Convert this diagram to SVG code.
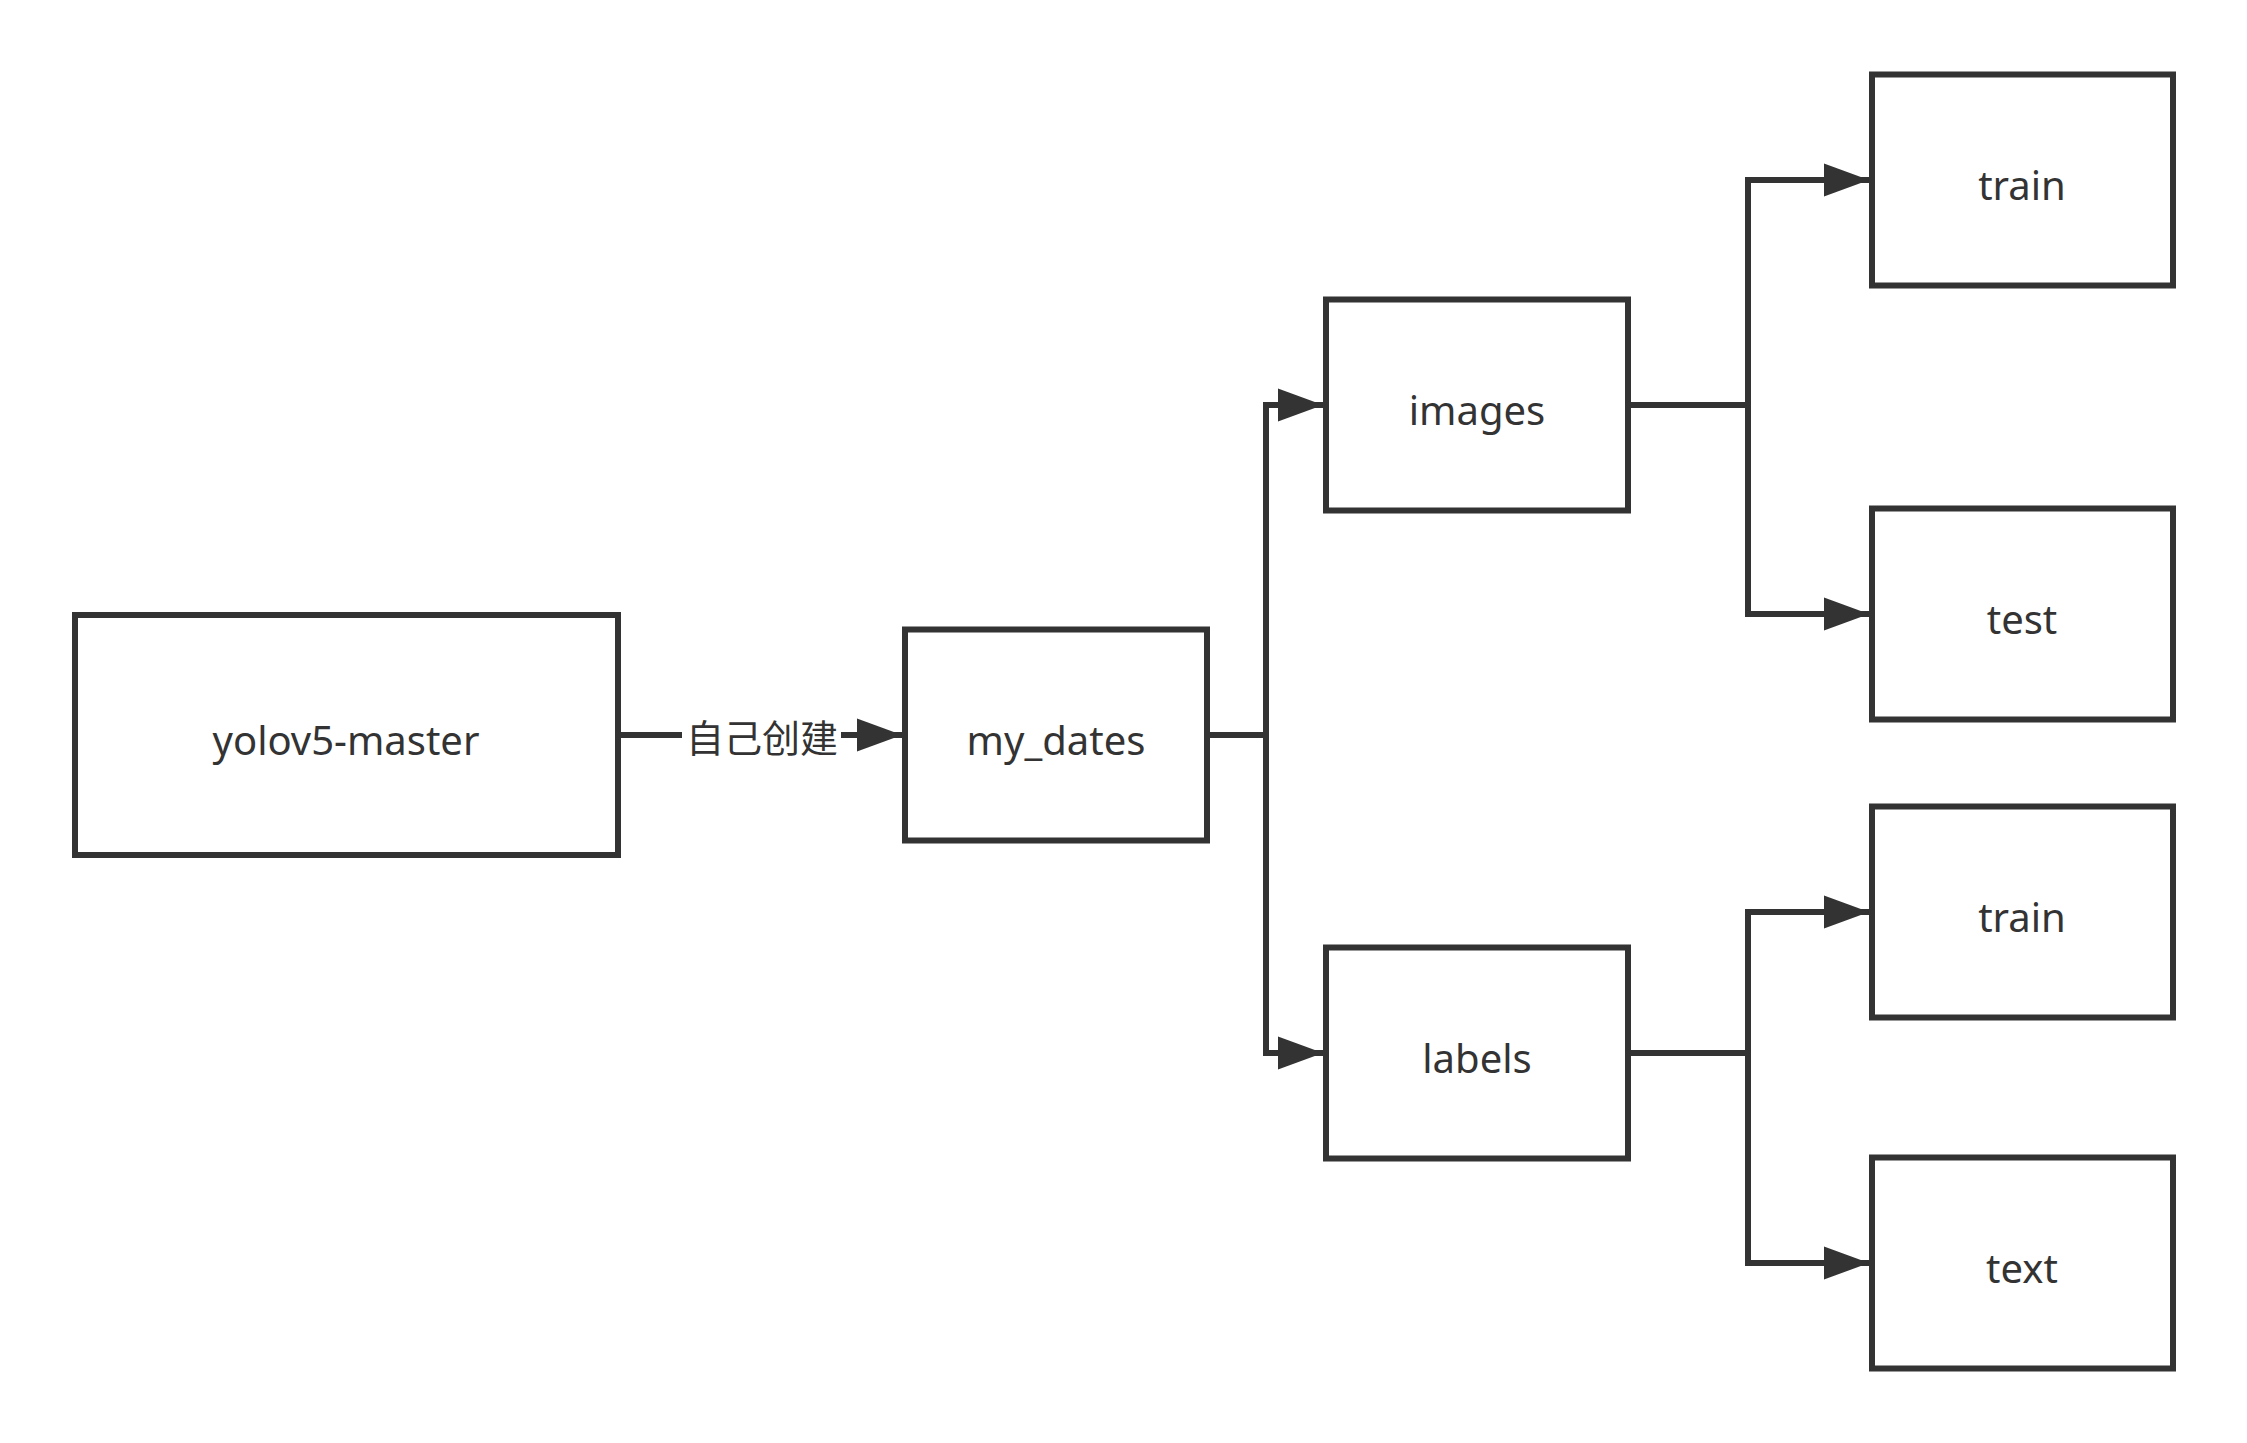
<svg xmlns="http://www.w3.org/2000/svg" width="2247" height="1443" viewBox="0 0 2247 1443">
<style>
.box{fill:#fff;stroke:#333;stroke-width:6}
.lbl{font-family:"Noto Sans","Noto Sans CJK SC",sans-serif;font-size:40px;fill:#333;text-anchor:middle}
.cn{font-family:"Noto Sans CJK SC",sans-serif;font-size:38px;fill:#333;text-anchor:middle}
.edge{fill:none;stroke:#333;stroke-width:6}
</style>
<defs>
<marker id="arr" markerUnits="userSpaceOnUse" markerWidth="46" markerHeight="34" refX="45" refY="17" orient="auto">
<path d="M0,0.5 L45,17 L0,33.5 Z" fill="#333"/>
</marker>
</defs>
<rect width="2247" height="1443" fill="#fff"/>
<g id="connectors">
<path class="edge" d="M618,735 H902" marker-end="url(#arr)"/>
<rect x="682" y="714" width="159" height="44" fill="#fff"/>
<text class="cn" x="762" y="752">自己创建</text>
<path class="edge" d="M1207,735 H1266 V405 H1323" marker-end="url(#arr)"/>
<path class="edge" d="M1266,735 V1053 H1323" marker-end="url(#arr)"/>
<path class="edge" d="M1628,405 H1748 V180 H1869" marker-end="url(#arr)"/>
<path class="edge" d="M1748,405 V614 H1869" marker-end="url(#arr)"/>
<path class="edge" d="M1628,1053 H1748 V912 H1869" marker-end="url(#arr)"/>
<path class="edge" d="M1748,1053 V1263 H1869" marker-end="url(#arr)"/>
</g>
<g id="node-yolov5-master"><rect class="box" x="75" y="615" width="543" height="240"/><text class="lbl" x="346" y="755">yolov5-master</text></g>
<g id="node-my_dates"><rect class="box" x="905" y="629.5" width="302" height="211"/><text class="lbl" x="1056" y="755">my_dates</text></g>
<g id="node-images"><rect class="box" x="1326" y="299.5" width="302" height="211"/><text class="lbl" x="1477" y="425">images</text></g>
<g id="node-labels"><rect class="box" x="1326" y="947.5" width="302" height="211"/><text class="lbl" x="1477" y="1073">labels</text></g>
<g id="node-train1"><rect class="box" x="1872" y="74.5" width="301" height="211"/><text class="lbl" x="2022" y="200">train</text></g>
<g id="node-test"><rect class="box" x="1872" y="508.5" width="301" height="211"/><text class="lbl" x="2022" y="634">test</text></g>
<g id="node-train2"><rect class="box" x="1872" y="806.5" width="301" height="211"/><text class="lbl" x="2022" y="932">train</text></g>
<g id="node-text"><rect class="box" x="1872" y="1157.5" width="301" height="211"/><text class="lbl" x="2022" y="1283">text</text></g>
</svg>
